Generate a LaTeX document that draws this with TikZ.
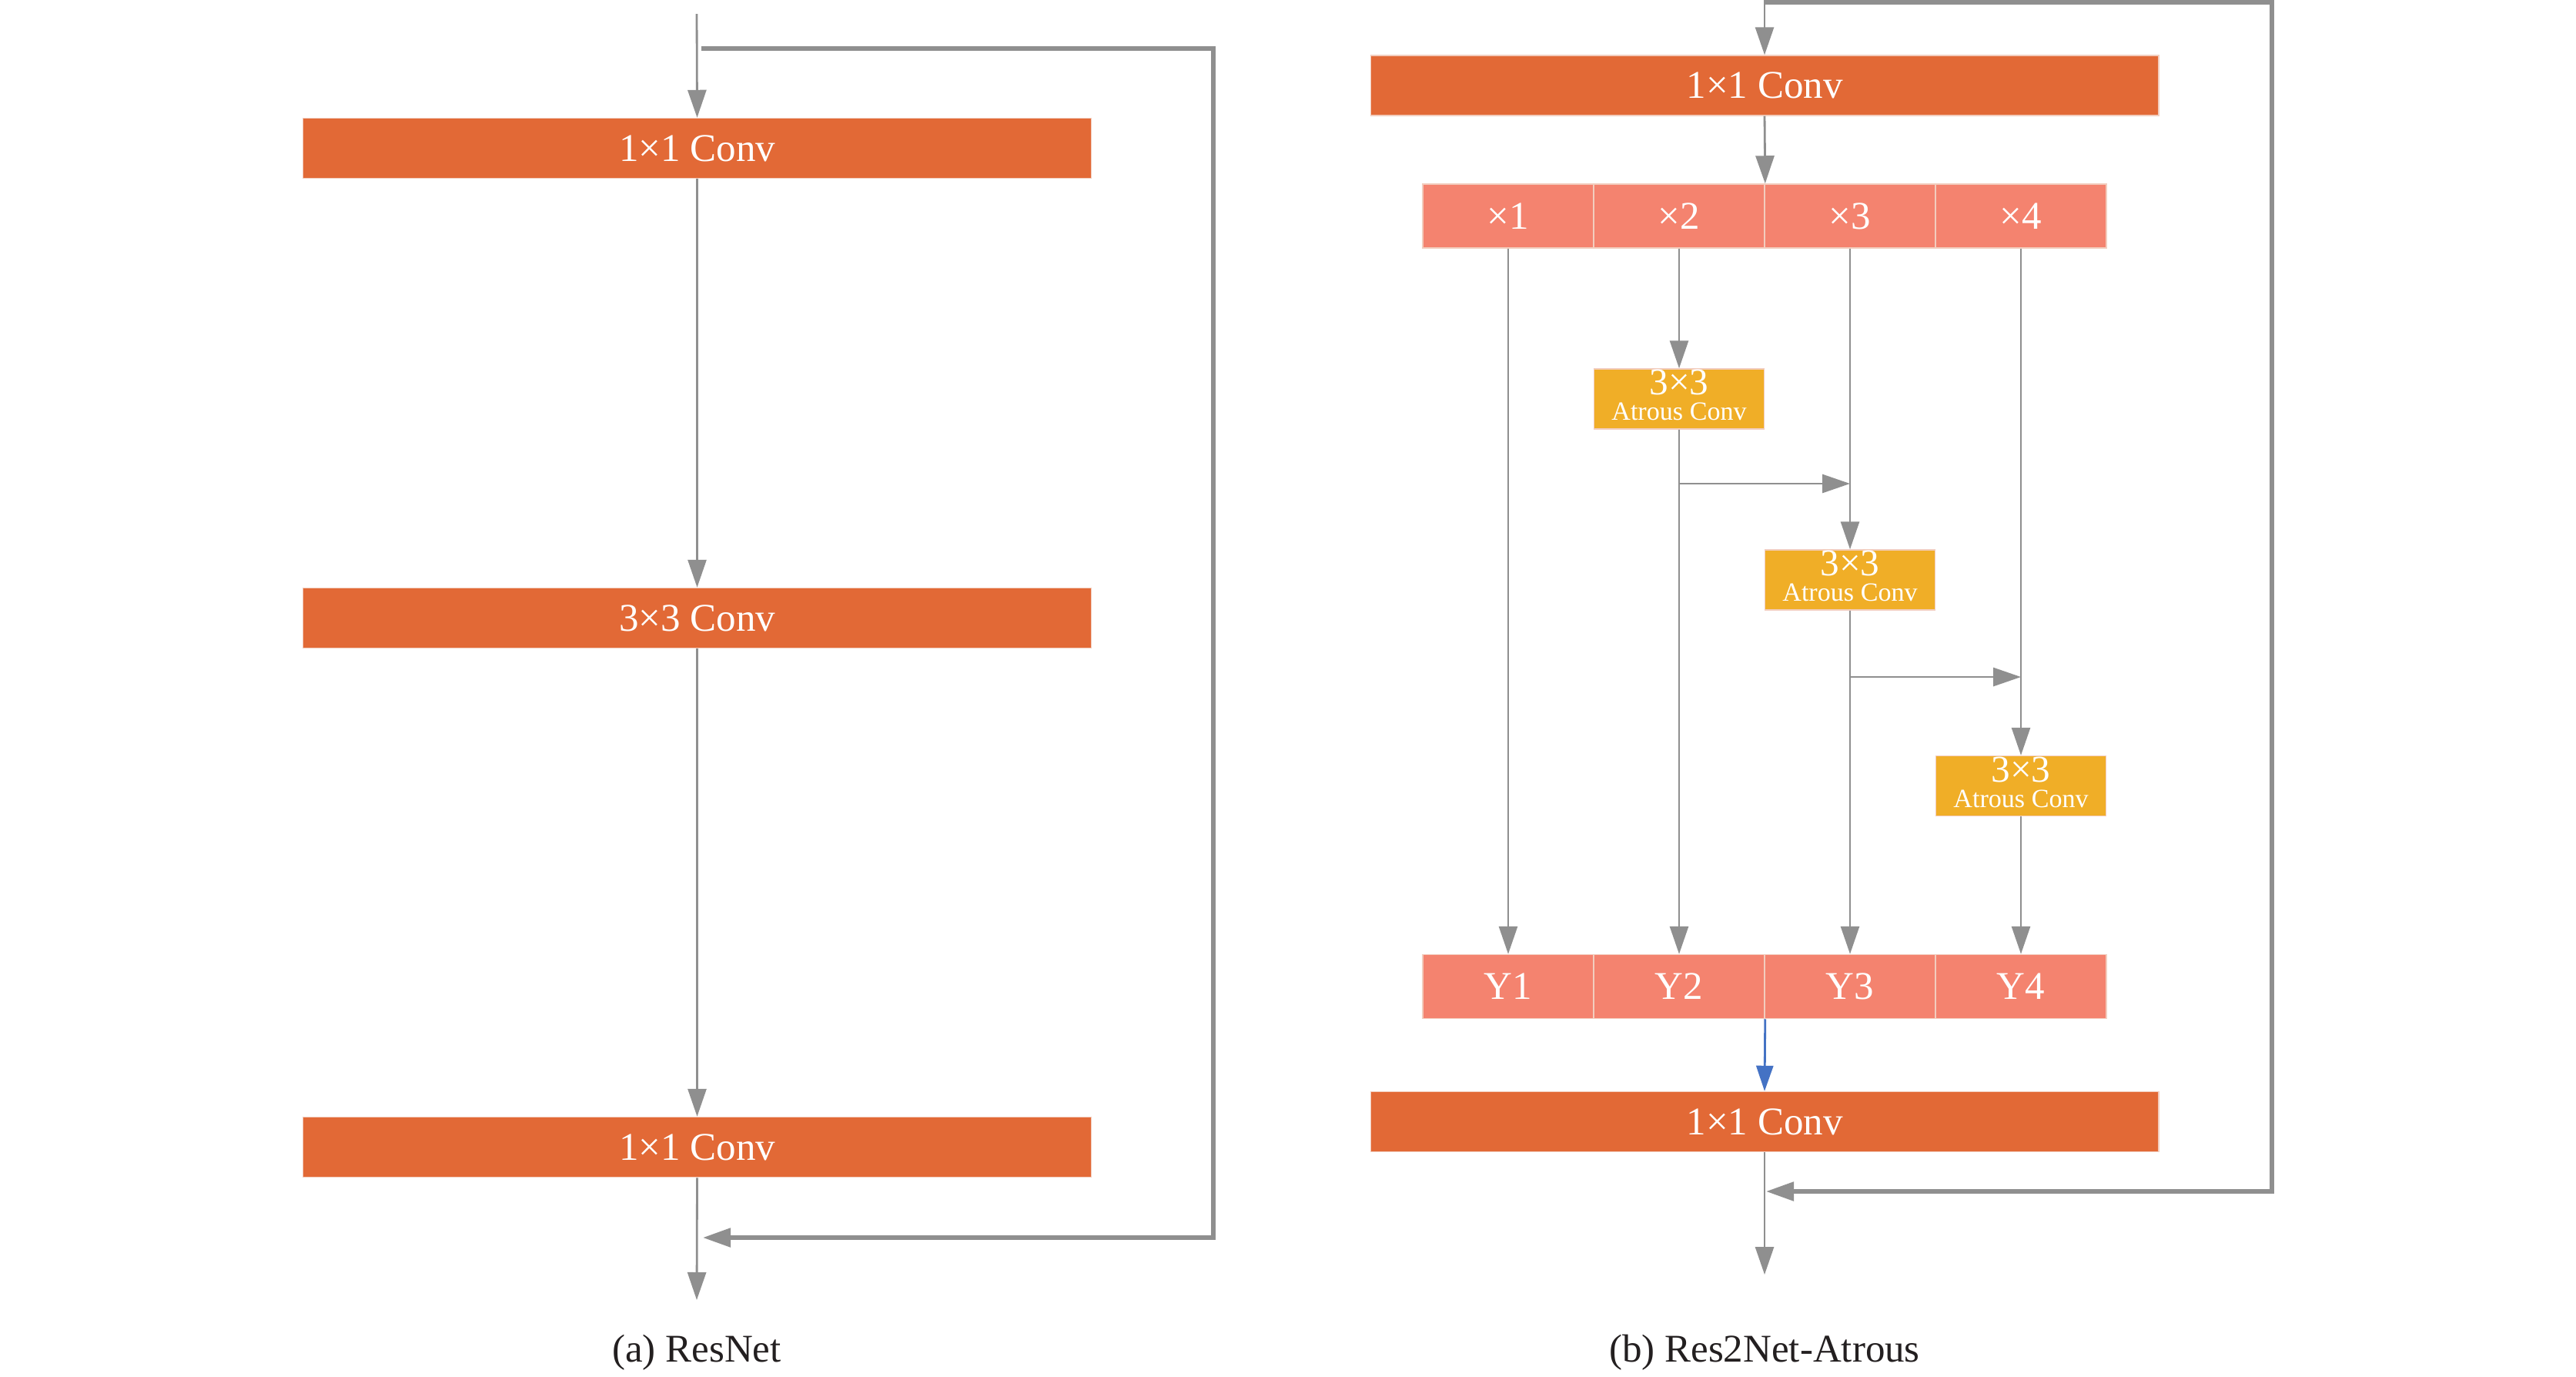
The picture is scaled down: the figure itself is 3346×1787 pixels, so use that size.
\documentclass[tikz,border=0pt]{standalone}
\usepackage{fontspec}
\setmainfont{Liberation Serif}
\usetikzlibrary{arrows.meta}
\definecolor{convc}{RGB}{226,105,54}
\definecolor{cellc}{RGB}{244,131,111}
\definecolor{atrc}{RGB}{240,174,39}
\definecolor{linec}{RGB}{143,143,143}
\definecolor{bluec}{RGB}{68,114,196}
\definecolor{edgec}{RGB}{242,205,190}
\definecolor{capc}{RGB}{35,31,32}
\newcommand{\fsz}{\fontsize{14.5}{17}\selectfont}
\tikzset{
  conv/.style={fill=convc, draw=edgec, line width=0.4pt, minimum width=10.23cm, minimum height=0.78cm, inner sep=0pt, text=white, font=\fsz},
  cell/.style={fill=cellc, draw=edgec, line width=0.4pt, minimum width=2.22cm, minimum height=0.83cm, inner sep=0pt, text=white, font=\fsz},
  atr/.style={fill=atrc, draw=edgec, line width=0.4pt, minimum width=2.21cm, minimum height=0.78cm, inner sep=0pt, text=white, align=center},
  arr/.style={draw=linec, line width=0.8pt, -{Triangle[length=3.6mm,width=2.4mm]}},
  arrb/.style={draw=bluec, line width=0.8pt, -{Triangle[length=3.3mm,width=2.2mm]}},
  fb/.style={draw=linec, line width=1.5pt, line join=miter, -{Triangle[length=3.6mm,width=2.4mm]}},
  captxt/.style={text=capc, font=\fsz, inner sep=0pt}
}
\newcommand{\atrtext}{{\fontsize{14}{14}\selectfont 3×3}\\[-2.6pt]{\fontsize{9.7}{11}\selectfont Atrous Conv\rule[-3pt]{0pt}{0pt}}}
\begin{document}
\begin{tikzpicture}[x=0.01cm,y=-0.01cm]
\useasboundingbox (0,0) rectangle (3346,1787);
% ---------- (a) ResNet ----------
\coordinate (Lin) at (905,18);
\node[conv] (L1) at (905.5,192.5) {1×1 Conv};
\node[conv] (L2) at (905.5,802.5) {3×3 Conv};
\node[conv] (L3) at (905.5,1489.5) {1×1 Conv};
\coordinate (Lout) at (905,1688);
\coordinate (Lf1) at (911,63);
\coordinate (Lf2) at (1576,63);
\coordinate (Lf3) at (1576,1607);
\coordinate (Lf4) at (913,1607);
\draw[arr] (Lin) -- (L1.north);
\draw[arr] (L1.south) -- (L2.north);
\draw[arr] (L2.south) -- (L3.north);
\draw[arr] (L3.south) -- (Lout);
\draw[fb] (Lf1) -- (Lf2) -- (Lf3) -- (Lf4);
\node[captxt] (capa) at (905,1756) {(a) ResNet};
% ---------- (b) Res2Net-Atrous ----------
\coordinate (Rtop) at (2292,0);
\coordinate (Rf1) at (2292,3);
\coordinate (Rf2) at (2951,3);
\coordinate (Rf3) at (2951,1547);
\coordinate (Rf4) at (2294,1547);
\node[conv] (R1) at (2292,111) {1×1 Conv};
\node[cell] (X1) at (1959,280.5) {×1};
\node[cell] (X2) at (2181,280.5) {×2};
\node[cell] (X3) at (2403,280.5) {×3};
\node[cell] (X4) at (2625,280.5) {×4};
\node[atr] (A1) at (2181,518) {\atrtext};
\node[atr] (A2) at (2403,753) {\atrtext};
\node[atr] (A3) at (2625,1020.5) {\atrtext};
\node[cell] (Y1) at (1959,1281) {Y1};
\node[cell] (Y2) at (2181,1281) {Y2};
\node[cell] (Y3) at (2403,1281) {Y3};
\node[cell] (Y4) at (2625,1281) {Y4};
\node[conv] (R2) at (2292,1456.5) {1×1 Conv};
\coordinate (Rout) at (2292,1655);
\coordinate (B1) at (0,628);
\coordinate (B2) at (0,879);
\draw[arr] (Rtop) -- (R1.north);
\draw[arr] (R1.south) -- (X2.north east);
\draw[arr] (X1.south) -- (Y1.north);
\draw[arr] (X2.south) -- (A1.north);
\draw[arr] (A1.south) -- (Y2.north);
\draw[arr] (X3.south) -- (A2.north);
\draw[arr] (A2.south) -- (Y3.north);
\draw[arr] (X4.south) -- (A3.north);
\draw[arr] (A3.south) -- (Y4.north);
\draw[arr] (A1.south |- B1) -- (X3.south |- B1);
\draw[arr] (A2.south |- B2) -- (X4.south |- B2);
\draw[arrb] (Y2.south east) -- (R2.north);
\draw[arr] (R2.south) -- (Rout);
\draw[fb] (Rf1) -- (Rf2) -- (Rf3) -- (Rf4);
\node[captxt] (capb) at (2292,1756) {(b) Res2Net-Atrous};
\end{tikzpicture}
\end{document}
